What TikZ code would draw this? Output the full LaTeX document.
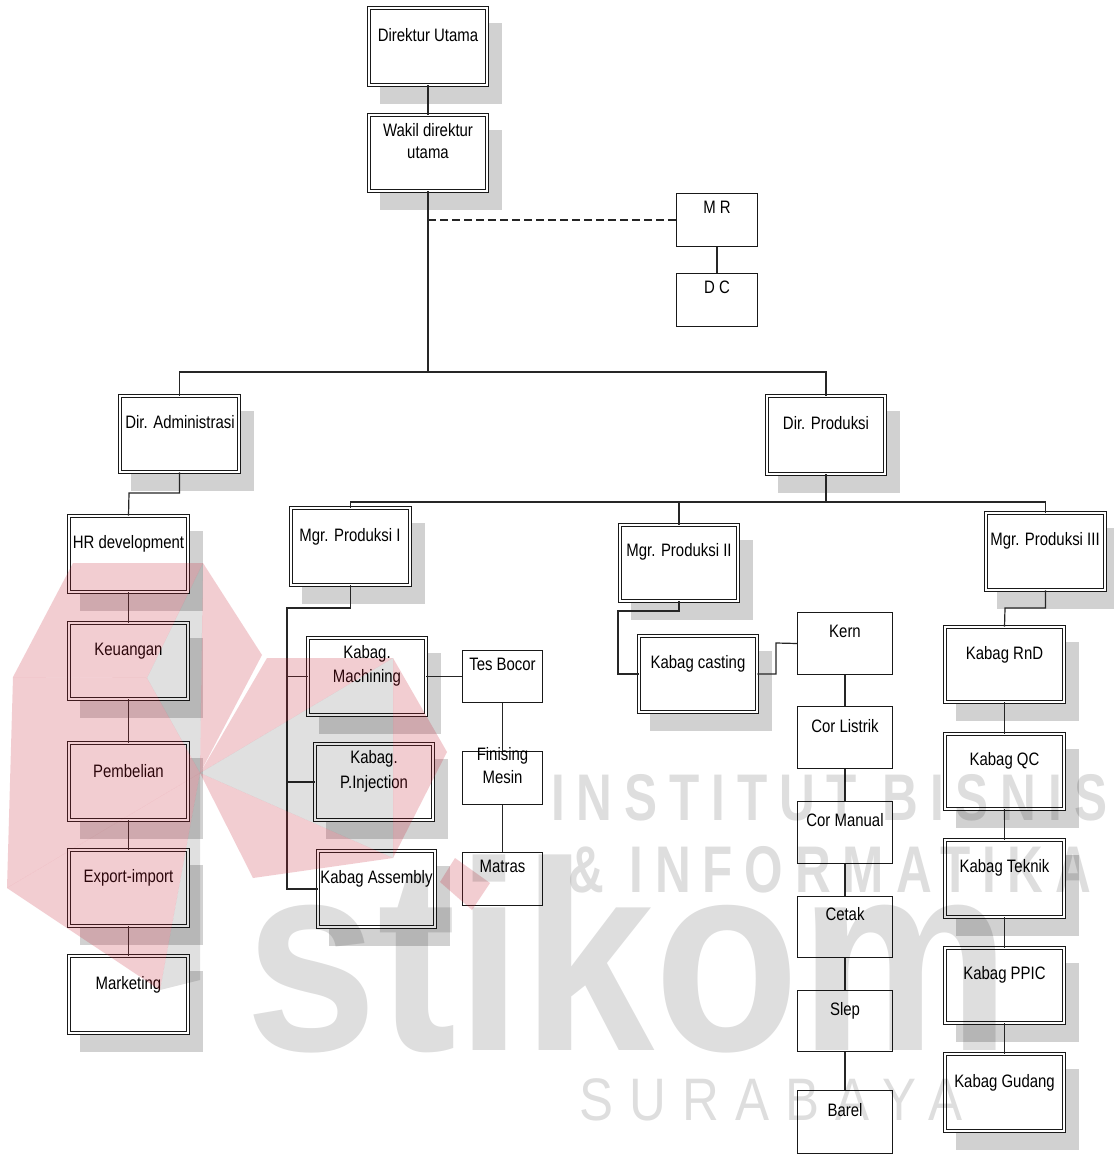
\documentclass[tikz,border=0pt]{standalone}
\usepackage{fontspec}
\setmainfont{Liberation Sans}[FakeStretch=0.83]
\newfontfamily\wmcaps{Liberation Sans}[FakeStretch=0.75, LetterSpace=18]
\newfontfamily\wmbig{Liberation Sans}[FakeStretch=0.88]
\newfontfamily\wmthin{Liberation Sans}[FakeStretch=0.85, LetterSpace=27]
\usetikzlibrary{fit,calc}
\definecolor{wmred}{RGB}{200,30,50}
\newcommand\SH[4]{\fill[shadowc] ({#1+13},{#2+17}) rectangle ({#3+13},{#4+17});}
\newcommand\DB[5]{\node[dbox, fit={({#2+2.2},{#3+2.2}) ({#4-2.2},{#5-2.2})}] (#1) {};}
\newcommand\SB[5]{\node[sbox, fit={({#2+0.6},{#3+0.6}) ({#4-0.6},{#5-0.6})}] (#1) {};}
\begin{document}
\begin{tikzpicture}[x=1pt,y=-1pt,
  shadowc/.style={fill=black!18},
  dbox/.style={draw=black!90, double=white, line width=1pt, double distance=2.4pt, fill=white, inner sep=0pt},
  sbox/.style={draw=black!90, line width=1.2pt, fill=white, inner sep=0pt},
  lbl/.style={anchor=base, inner sep=0pt, font=\fontsize{18}{22}\selectfont, text=black},
  conn/.style={line width=1.2pt, draw=black!85},
  wmp/.style={fill=wmred, fill opacity=0.22},
  wmg/.style={fill=black, fill opacity=0.12},
  wmt/.style={inner sep=0pt, text=black, text opacity=0.13},
]
\useasboundingbox (0,0) rectangle (1113,1155);
\fill[white] (0,0) rectangle (1113,1155);

% shadows
\SH{367}{6}{489}{87}
\SH{367}{113}{489}{193}
\SH{118}{394}{241}{474}
\SH{765}{394}{887}{476}
\SH{67}{514}{190}{594}
\SH{67}{621}{190}{701}
\SH{67}{741}{190}{822}
\SH{67}{848}{190}{928}
\SH{67}{954}{190}{1035}
\SH{289}{506}{412}{587}
\SH{618}{523}{740}{603}
\SH{984}{511}{1107}{592}
\SH{306}{636}{428}{717}
\SH{313}{742}{435}{822}
\SH{316}{849}{437}{929}
\SH{637}{634}{759}{714}
\SH{943}{625}{1066}{704}
\SH{943}{732}{1066}{811}
\SH{943}{838}{1066}{919}
\SH{943}{946}{1066}{1025}
\SH{943}{1052}{1066}{1133}

% boxes
\DB{du}{367}{6}{489}{87}
\DB{wk}{367}{113}{489}{193}
\SB{mr}{676}{193}{758}{247}
\SB{dc}{676}{273}{758}{327}
\DB{da}{118}{394}{241}{474}
\DB{dp}{765}{394}{887}{476}
\DB{hr}{67}{514}{190}{594}
\DB{ku}{67}{621}{190}{701}
\DB{pb}{67}{741}{190}{822}
\DB{ex}{67}{848}{190}{928}
\DB{mk}{67}{954}{190}{1035}
\DB{m1}{289}{506}{412}{587}
\DB{m2}{618}{523}{740}{603}
\DB{m3}{984}{511}{1107}{592}
\DB{mach}{306}{636}{428}{717}
\DB{inj}{313}{742}{435}{822}
\DB{asm}{316}{849}{437}{929}
\SB{tes}{462}{650}{543}{703}
\SB{fin}{462}{751}{543}{805}
\SB{mat}{462}{852}{543}{906}
\DB{cast}{637}{634}{759}{714}
\SB{kern}{797}{612}{893}{675}
\SB{cl}{797}{706}{893}{769}
\SB{cm}{797}{801}{893}{864}
\SB{ce}{797}{896}{893}{958}
\SB{sl}{797}{990}{893}{1052}
\SB{ba}{797}{1090}{893}{1154}
\DB{rnd}{943}{625}{1066}{704}
\DB{qc}{943}{732}{1066}{811}
\DB{tek}{943}{838}{1066}{919}
\DB{ppic}{943}{946}{1066}{1025}
\DB{gud}{943}{1052}{1066}{1133}

% connectors
\coordinate (bus1) at (428,372);
\coordinate (dsh) at (428,220);
\coordinate (bus2) at (826,502);
\coordinate (j1) at (129,493);
\coordinate (j2) at (287,608);
\coordinate (j3) at (618,611);
\coordinate (j4) at (776,643);
\coordinate (j5) at (1005,608);
\draw[conn] (du.south) -- (wk.north);
\draw[conn, line width=1.6pt] (wk.south) -- (bus1);
\draw[conn, dash pattern=on 8pt off 4pt] (dsh) -- (mr.west);
\draw[conn] (mr.south) -- (dc.north);
\draw[conn, line width=1.5pt] (da.north) |- (bus1) -| (dp.north);
\draw[conn, line width=1.5pt] (dp.south) -- (bus2);
\draw[conn, line width=1.5pt] (m1.north) |- (bus2) -| (m3.north);
\draw[conn] (bus2 -| m2.north) -- (m2.north);
\draw[conn] (da.south) |- (j1) -- (hr.north);
\draw[conn] (hr.south) -- (ku.north);
\draw[conn] (ku.south) -- (pb.north);
\draw[conn] (pb.south) -- (ex.north);
\draw[conn] (ex.south) -- (mk.north);
\draw[conn] (m1.south) |- (j2) |- (asm.west);
\draw[conn] (j2 |- mach.west) -- (mach.west);
\draw[conn] (j2 |- inj.west) -- (inj.west);
\draw[conn] (mach.east) -- (tes.west);
\draw[conn] (tes.south) -- (fin.north);
\draw[conn] (fin.south) -- (mat.north);
\draw[conn] (m2.south) |- (j3) |- (cast.west);
\draw[conn] (cast.east) -| (j4) -- (kern.west);
\draw[conn] (kern.south) -- (cl.north);
\draw[conn] (cl.south) -- (cm.north);
\draw[conn] (cm.south) -- (ce.north);
\draw[conn] (ce.south) -- (sl.north);
\draw[conn] (sl.south) -- (ba.north);
\draw[conn] (m3.south) |- (j5) -- (rnd.north);
\draw[conn] (rnd.south) -- (qc.north);
\draw[conn] (qc.south) -- (tek.north);
\draw[conn] (tek.south) -- (ppic.north);
\draw[conn] (ppic.south) -- (gud.north);

% labels
\node[lbl] (t-du) at (428,42) {Direktur Utama};
\node[lbl] (t-wk1) at (428,137) {Wakil direktur};
\node[lbl] (t-wk2) at (428,159) {utama};
\node[lbl] (t-mr) at (717,214) {M R};
\node[lbl] (t-dc) at (717,294) {D C};
\node[lbl] (t-da) at (180,428) {Dir. Administrasi};
\node[lbl] (t-dp) at (826,429) {Dir. Produksi};
\node[lbl] (t-hr) at (128.5,548) {HR development};
\node[lbl] (t-ku) at (128.5,655) {Keuangan};
\node[lbl] (t-pb) at (128.5,777) {Pembelian};
\node[lbl] (t-ex) at (128.5,882) {Export-import};
\node[lbl] (t-mk) at (128.5,989) {Marketing};
\node[lbl] (t-m1) at (350,541) {Mgr. Produksi I};
\node[lbl] (t-m2) at (679,556) {Mgr. Produksi II};
\node[lbl] (t-m3) at (1045,545) {Mgr. Produksi III};
\node[lbl] (t-mach1) at (367,658) {Kabag.};
\node[lbl] (t-mach2) at (367,682) {Machining};
\node[lbl] (t-inj1) at (374,763) {Kabag.};
\node[lbl] (t-inj2) at (374,788) {P.Injection};
\node[lbl] (t-asm) at (376.5,883) {Kabag Assembly};
\node[lbl] (t-tes) at (502.5,670) {Tes Bocor};
\node[lbl] (t-fin1) at (502.5,760) {Finising};
\node[lbl] (t-fin2) at (502.5,783) {Mesin};
\node[lbl] (t-mat) at (502.5,872) {Matras};
\node[lbl] (t-cast) at (698,668) {Kabag casting};
\node[lbl] (t-kern) at (845,637) {Kern};
\node[lbl] (t-cl) at (845,732) {Cor Listrik};
\node[lbl] (t-cm) at (845,826) {Cor Manual};
\node[lbl] (t-ce) at (845,920) {Cetak};
\node[lbl] (t-sl) at (845,1015) {Slep};
\node[lbl] (t-ba) at (845,1116) {Barel};
\node[lbl] (t-rnd) at (1004.5,659) {Kabag RnD};
\node[lbl] (t-qc) at (1004.5,765) {Kabag QC};
\node[lbl] (t-tek) at (1004.5,872) {Kabag Teknik};
\node[lbl] (t-ppic) at (1004.5,979) {Kabag PPIC};
\node[lbl] (t-gud) at (1004.5,1087) {Kabag Gudang};

% watermark logo
\fill[wmp] (13,677) -- (73,563) -- (203,563) -- (147,678) -- cycle;
\fill[wmp] (13,677) -- (147,678) -- (200,773) -- (7,888) -- cycle;
\fill[wmp] (7,888) -- (200,773) -- (160,990) -- cycle;
\fill[wmp] (203,563) -- (262,655) -- (200,773) -- cycle;
\fill[wmp] (200,773) -- (267,658) -- (393,658) -- cycle;
\fill[wmp] (393,658) -- (447,752) -- (393,858) -- cycle;
\fill[wmp] (200,773) -- (393,858) -- (253,878) -- cycle;
\fill[wmp] (440,882) -- (455,858) -- (490,883) -- (472,910) -- cycle;
\fill[wmg] (203,563) -- (147,678) -- (200,773) -- cycle;
\fill[wmg] (200,773) -- (160,990) -- (200,980) -- cycle;
\fill[wmg] (200,773) -- (393,658) -- (393,858) -- cycle;

% watermark text
\node[wmt, anchor=base west, font=\wmcaps\bfseries\fontsize{66}{66}\selectfont] (wm1) at (551,820) {INSTITUT BISNIS};
\node[wmt, anchor=base west, font=\wmcaps\bfseries\fontsize{66}{66}\selectfont] (wm2) at (568,892) {\& INFORMATIKA};
\node[wmt, anchor=base west, font=\wmbig\bfseries\fontsize{270}{270}\selectfont] (wm3) at (245,1050) {stikom};
\node[wmt, anchor=base west, font=\wmthin\fontsize{60}{60}\selectfont] (wm4) at (579,1120) {SURABAYA};
\end{tikzpicture}
\end{document}
